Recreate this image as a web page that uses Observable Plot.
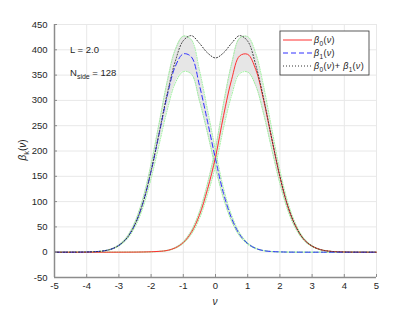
<!DOCTYPE html>
<html>
<head>
<meta charset="utf-8">
<script src="https://cdn.jsdelivr.net/npm/d3@7"></script>
<script src="https://cdn.jsdelivr.net/npm/@observablehq/plot@0.6"></script>
<style>
  html, body { margin: 0; padding: 0; background: #fff; }
  svg text { font-family: "Liberation Sans", Arial, sans-serif; }
</style>
</head>
<body>
<div id="chart"></div>
<script>
const nu = [-5,-4.75,-4.5,-4.25,-4,-3.75,-3.5,-3.25,-3,-2.75,-2.5,-2.25,-2,-1.75,-1.5,-1.25,-1,-0.75,-0.5,-0.25,0,0.25,0.5,0.75,1,1.25,1.5,1.75,2,2.25,2.5,2.75,3,3.25,3.5,3.75,4,4.25,4.5,4.75,5];
const beta0 = [0,0,0,0,0,0,0,0,0.05,0.1,0.2,0.4,0.8,1.6,3.4,8.5,19,39,73,124,188,270,341,388,391,361,299,223,149,90,50,25,12,5.2,2.2,0.9,0.4,0.15,0.05,0,0];
const beta1 = [0,0,0.05,0.15,0.4,1.0,2.4,5.8,13.5,28,55,98,160,234,309,367,392,386,330,259,184,116,67,35,17,7.5,3.0,1.3,0.6,0.2,0.1,0.05,0,0,0,0,0,0,0,0,0];
const betaSum = [0,0,0.05,0.15,0.4,1.0,2.4,5.8,13.5,28,55,98,161,236,313,377,418,428,413,394,384,394,413,428,417,370,302,224,150,90,50,25,12,5.2,2.2,0.9,0.4,0.15,0.05,0,0];
const sd0 = [0,0,0,0,0,0,0,0,0,0,0,0.05,0.1,0.15,0.3,0.8,1.7,3.5,6.6,11,17,24,31,35,35,32,27,20,13,8,4.5,2.2,1.1,0.5,0.2,0.1,0,0,0,0,0];
const sd1 = [0,0,0,0,0,0.1,0.2,0.5,1.2,2.5,5,9,14,21,28,33,35,34,30,23,17,10,6,3.2,1.5,0.7,0.3,0.1,0.05,0,0,0,0,0,0,0,0,0,0,0,0];
const xTicks = [-5,-4,-3,-2,-1,0,1,2,3,4,5];
const yTicks = [-50,0,50,100,150,200,250,300,350,400,450];
const xDomain = [-5, 5];
const yDomain = [-50, 450];

const rows = nu.map((v, i) => ({
  nu: v, b0: beta0[i], b1: beta1[i], s: betaSum[i],
  lo0: beta0[i] - sd0[i], hi0: beta0[i] + sd0[i],
  lo1: beta1[i] - sd1[i], hi1: beta1[i] + sd1[i]
}));

const W = 415, H = 312, mL = 54, mR = 39, mT = 24, mB = 35;
const curve = "catmull-rom";
const bandFill = "#e6e6e6";
const edge = {stroke: "#96f096", strokeWidth: 1, strokeDasharray: "1,1.5", curve};
const fmt = d => String(d);

const chart = Plot.plot({
  width: W, height: H, marginLeft: mL, marginRight: mR, marginTop: mT, marginBottom: mB,
  style: {fontFamily: "Liberation Sans, Arial, sans-serif", fontSize: "9.5px", background: "#fff", color: "#262626"},
  x: {domain: xDomain},
  y: {domain: yDomain},
  marks: [
    Plot.gridX(xTicks, {stroke: "#e8e8e8", strokeOpacity: 1}),
    Plot.gridY(yTicks, {stroke: "#e8e8e8", strokeOpacity: 1}),
    Plot.areaY(rows, {x: "nu", y1: "lo1", y2: "hi1", fill: bandFill, curve}),
    Plot.areaY(rows, {x: "nu", y1: "lo0", y2: "hi0", fill: bandFill, curve}),
    Plot.line(rows, {x: "nu", y: "lo1", ...edge}),
    Plot.line(rows, {x: "nu", y: "hi1", ...edge}),
    Plot.line(rows, {x: "nu", y: "lo0", ...edge}),
    Plot.line(rows, {x: "nu", y: "hi0", ...edge}),
    Plot.line(rows, {x: "nu", y: "b0", stroke: "#ff3030", strokeWidth: 1, curve}),
    Plot.line(rows, {x: "nu", y: "b1", stroke: "#3030ff", strokeWidth: 1, strokeDasharray: "5,3", curve}),
    Plot.line(rows, {x: "nu", y: "s", stroke: "#333", strokeWidth: 1, strokeDasharray: "1,2", curve}),
    Plot.ruleX([xDomain[0]], {stroke: "#8c8c8c", strokeWidth: 1.5}),
    Plot.ruleY([yDomain[0]], {stroke: "#8c8c8c", strokeWidth: 1.5}),
    Plot.ruleX(xTicks, {stroke: "#8c8c8c", insetTop: H - mT - mB - 3}),
    Plot.ruleY(yTicks, {stroke: "#8c8c8c", insetRight: W - mL - mR - 3}),
    Plot.axisX(xTicks, {tickSize: 0, tickPadding: 5, label: null, fill: "#262626", tickFormat: fmt}),
    Plot.axisY(yTicks, {tickSize: 0, tickPadding: 7, label: null, fill: "#262626", tickFormat: fmt})
  ]
});
document.getElementById("chart").appendChild(chart);

const svg = d3.select(chart);
const ink = "#262626";

// annotations
svg.append("text").attr("x", 70).attr("y", 52.5).attr("text-anchor", "start").attr("font-size", 9.5).attr("fill", ink).text("L = 2.0");
const ns = svg.append("text").attr("x", 70).attr("y", 76).attr("text-anchor", "start").attr("font-size", 9.5).attr("fill", ink);
ns.append("tspan").text("N");
ns.append("tspan").attr("font-size", 7).attr("dy", 3).text("side");
ns.append("tspan").attr("dy", -3).text(" = 128");

// axis titles
const yl = svg.append("text").attr("transform", "translate(26,150) rotate(-90)").attr("text-anchor", "middle").attr("font-size", 10).attr("fill", ink);
yl.append("tspan").attr("font-style", "italic").text("β");
yl.append("tspan").attr("font-size", 7.5).attr("dy", 3).text("k");
yl.append("tspan").attr("dy", -3).text("(");
yl.append("tspan").attr("font-style", "italic").text("ν");
yl.append("tspan").text(")");

svg.append("text").attr("x", 215).attr("y", 305).attr("text-anchor", "middle").attr("font-size", 10).attr("font-style", "italic").attr("fill", ink).text("ν");

// legend
const lg = svg.append("g");
lg.append("rect").attr("x", 280).attr("y", 31).attr("width", 89).attr("height", 44).attr("fill", "#fff").attr("stroke", "#333").attr("stroke-width", 0.8);
const entries = [
  {y: 40, stroke: "#ff3030", dash: null, parts: [["β","0"]]},
  {y: 53, stroke: "#3030ff", dash: "5,3", parts: [["β","1"]]},
  {y: 66, stroke: "#333", dash: "1,2", parts: [["β","0"],["β","1"]]}
];
entries.forEach(e => {
  lg.append("line").attr("x1", 283).attr("x2", 312).attr("y1", e.y).attr("y2", e.y)
    .attr("stroke", e.stroke).attr("stroke-width", 1).attr("stroke-dasharray", e.dash);
  const t = lg.append("text").attr("x", 314).attr("y", e.y + 3).attr("text-anchor", "start").attr("font-size", 9).attr("letter-spacing", 0.3).attr("fill", ink);
  e.parts.forEach((p, j) => {
    if (j > 0) t.append("tspan").text("+ ");
    t.append("tspan").attr("font-style", "italic").text(p[0]);
    t.append("tspan").attr("font-size", 6.5).attr("dy", 2.5).text(p[1]);
    t.append("tspan").attr("dy", -2.5).text("(");
    t.append("tspan").attr("font-style", "italic").text("ν");
    t.append("tspan").text(")");
  });
});
</script>
</body>
</html>
